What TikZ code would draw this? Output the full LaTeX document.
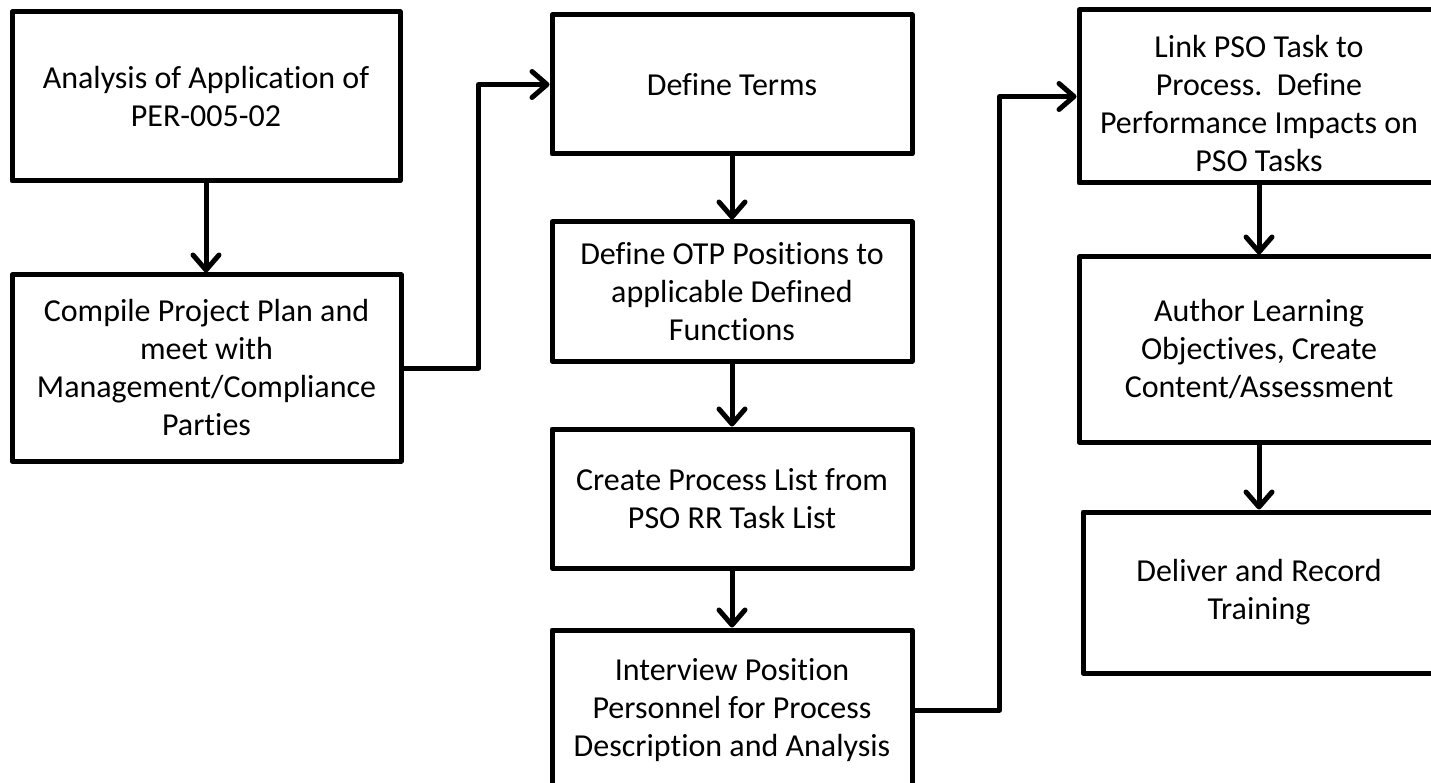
\documentclass[tikz,border=0pt]{standalone}
\usepackage{fontspec}
\setmainfont{Carlito}[Ligatures=NoCommon]
\usetikzlibrary{arrows.meta}
\begin{document}
\begin{tikzpicture}[x=1pt,y=-1pt,
  box/.style={draw=black,line width=5pt,rectangle,inner sep=0pt,align=center,
    font=\fontsize{32}{38}\selectfont,line join=round},
  txt/.style={inner sep=0pt,align=center,font=\fontsize{32}{38}\selectfont},
  arr/.style={line width=5pt,line join=round,
    -{Straight Barb[length=15pt,width=26pt,round,line width=5pt]}}]
\useasboundingbox (0,0) rectangle (1431,783);
\clip (0,0) rectangle (1431,783);
\fill[white] (0,0) rectangle (1431,783);
\node[box,minimum width=388pt,minimum height=169pt] (a) at (206,96.5)
  {Analysis of Application of\\PER-005-02};
\node[box,minimum width=389pt,minimum height=186pt] (b) at (206.5,368)
  {Compile Project Plan and\\meet with\\Management/Compliance\\Parties};
\node[box,minimum width=360pt,minimum height=139pt] (c) at (732,84.5)
  {Define Terms};
\node[box,minimum width=360pt,minimum height=139pt] (d) at (732,291.5)
  {Define OTP Positions to\\applicable Defined\\Functions};
\node[box,minimum width=360pt,minimum height=139pt] (e) at (732,498.5)
  {Create Process List from\\PSO RR Task List};
\node[box,minimum width=360pt,minimum height=160pt] (f) at (732,710)
  {Interview Position\\Personnel for Process\\Description and Analysis};
\node[box,minimum width=360pt,minimum height=173pt] (g) at (1259,96.5) {};
\node[txt] (gt) at (1259,104) {Link PSO Task to\\Process.\ \ Define\\Performance Impacts on\\PSO Tasks};
\node[box,minimum width=360pt,minimum height=185pt] (h) at (1259,349.5)
  {Author Learning\\Objectives, Create\\Content/Assessment};
\node[box,minimum width=352pt,minimum height=161pt] (i) at (1259,592.5)
  {Deliver and Record\\Training};
\draw[arr] (a.south) -- (a.south |- b.north);
\draw[arr] (b.east) -- ++(75,0) |- (c.west);
\draw[arr] (c.south) -- (c.south |- d.north);
\draw[arr] (d.south) -- (d.south |- e.north);
\draw[arr] (e.south) -- (e.south |- f.north);
\draw[arr] (f.east) -- ++(85,0) |- (g.west);
\draw[arr] (g.south) -- (g.south |- h.north);
\draw[arr] (h.south) -- (h.south |- i.north);
\end{tikzpicture}
\end{document}
